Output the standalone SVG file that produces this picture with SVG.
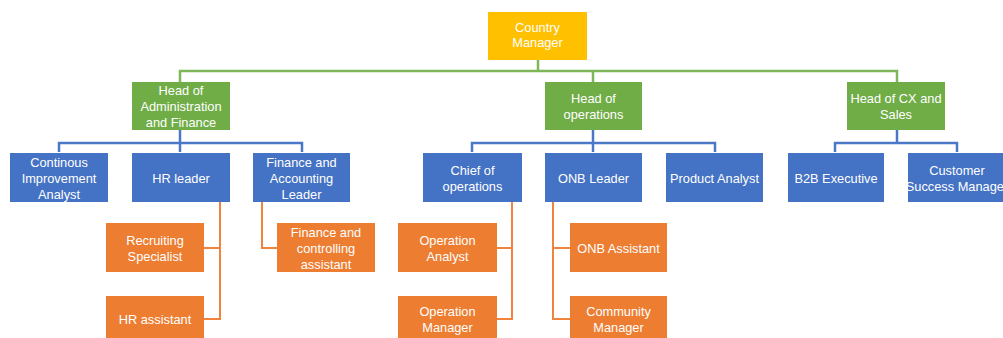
<svg xmlns="http://www.w3.org/2000/svg" width="1003" height="338" viewBox="0 0 1003 338">
<style>
.box{stroke:none}
.y{fill:#FFC000}
.g{fill:#70AD47}
.b{fill:#4472C4}
.o{fill:#ED7D31}
text{font-family:"Liberation Sans",Arial,sans-serif;font-size:12.8px;fill:#ffffff;text-anchor:middle}
.lg{stroke:#7DB75A;stroke-width:2.5;fill:none}
.lb{stroke:#4A77C6;stroke-width:2.5;fill:none}
.lo{stroke:#F0843E;stroke-width:2;fill:none}
</style>
<rect width="1003" height="338" fill="#ffffff"/>
<g id="connectors">
<path class="lg" d="M538,60 V71 M180,82 V71 H897 V82 M593,71 V82"/>
<path class="lb" d="M180,130 V143 M59,152 V143 H302 V152 M180,143 V152"/>
<path class="lb" d="M593,130 V152 M472,152 V143 H715 V152"/>
<path class="lb" d="M897,130 V143 M835,152 V143 H957 V152"/>
<path class="lo" d="M220,202 V319 H204 M220,248 H204"/>
<path class="lo" d="M262,202 V248 H277"/>
<path class="lo" d="M512,202 V319 H497 M512,248 H497"/>
<path class="lo" d="M553,202 V319 H570 M553,248 H570"/>
</g>
<g id="country-manager"><rect class="box y" x="488" y="12" width="99" height="48"/><text x="537.5" y="32">Country</text><text x="537.5" y="47">Manager</text></g>
<g id="head-admin"><rect class="box g" x="132" y="82" width="98" height="48"/><text x="181" y="94.5">Head of</text><text x="181" y="110.5">Administration</text><text x="181" y="126.5">and Finance</text></g>
<g id="head-ops"><rect class="box g" x="545" y="82" width="97" height="48"/><text x="593.5" y="102.5">Head of</text><text x="593.5" y="118.5">operations</text></g>
<g id="head-cx"><rect class="box g" x="847" y="82" width="98" height="48"/><text x="896" y="102.5">Head of CX and</text><text x="896" y="118.5">Sales</text></g>
<g id="continous"><rect class="box b" x="10" y="153" width="98" height="49"/><text x="59" y="166.5">Continous</text><text x="59" y="182.5">Improvement</text><text x="59" y="198.5">Analyst</text></g>
<g id="hr-leader"><rect class="box b" x="132" y="153" width="98" height="49"/><text x="181" y="182.5">HR leader</text></g>
<g id="fin-acc-leader"><rect class="box b" x="253" y="153" width="97" height="49"/><text x="301.5" y="166.5">Finance and</text><text x="301.5" y="182.5">Accounting</text><text x="301.5" y="198.5">Leader</text></g>
<g id="chief-ops"><rect class="box b" x="423" y="153" width="99" height="49"/><text x="472.5" y="174.5">Chief of</text><text x="472.5" y="190.5">operations</text></g>
<g id="onb-leader"><rect class="box b" x="545" y="153" width="97" height="49"/><text x="593.5" y="182.5">ONB Leader</text></g>
<g id="product-analyst"><rect class="box b" x="666" y="153" width="97" height="49"/><text x="714.5" y="182.5">Product Analyst</text></g>
<g id="b2b"><rect class="box b" x="788" y="153" width="96" height="49"/><text x="836" y="182.5">B2B Executive</text></g>
<g id="csm"><rect class="box b" x="908" y="153" width="98" height="49"/><text x="957" y="174.5">Customer</text><text x="957" y="190.5">Success Manager</text></g>
<g id="recruiting"><rect class="box o" x="106" y="223" width="98" height="49"/><text x="155" y="244.5">Recruiting</text><text x="155" y="260.5">Specialist</text></g>
<g id="hr-assistant"><rect class="box o" x="106" y="296" width="98" height="49"/><text x="155" y="323.5">HR assistant</text></g>
<g id="fin-ctrl-assistant"><rect class="box o" x="277" y="223" width="98" height="49"/><text x="326" y="236.5">Finance and</text><text x="326" y="252.5">controlling</text><text x="326" y="268.5">assistant</text></g>
<g id="op-analyst"><rect class="box o" x="398" y="223" width="99" height="49"/><text x="447.5" y="244.5">Operation</text><text x="447.5" y="260.5">Analyst</text></g>
<g id="op-manager"><rect class="box o" x="398" y="296" width="99" height="49"/><text x="447.5" y="315.5">Operation</text><text x="447.5" y="331.5">Manager</text></g>
<g id="onb-assistant"><rect class="box o" x="570" y="223" width="97" height="49"/><text x="618.5" y="252.5">ONB Assistant</text></g>
<g id="community-manager"><rect class="box o" x="570" y="296" width="97" height="49"/><text x="618.5" y="315.5">Community</text><text x="618.5" y="331.5">Manager</text></g>
</svg>
